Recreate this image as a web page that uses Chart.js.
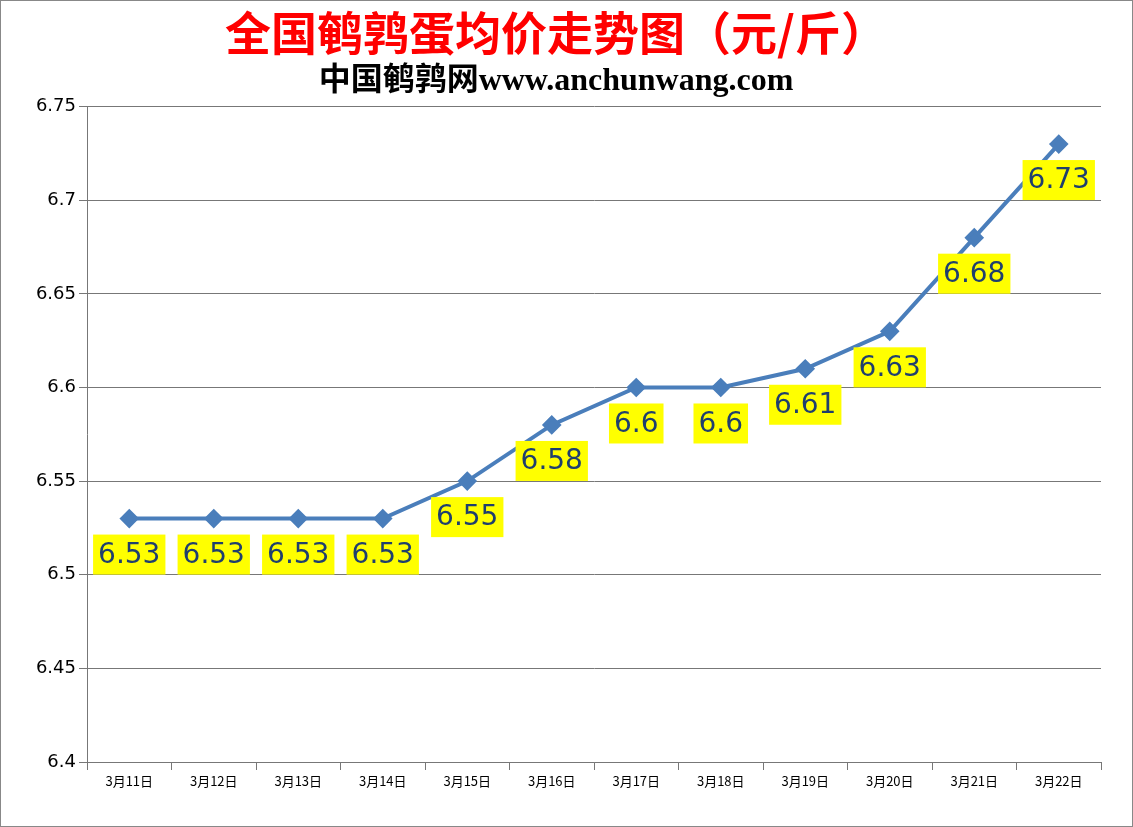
<!DOCTYPE html>
<html><head><meta charset="utf-8">
<script src="https://cdn.jsdelivr.net/npm/chart.js@4"></script>
<style>body{margin:0;background:#fff}#wrap{width:1133px;height:827px;box-sizing:border-box;border:1px solid #888}</style>
</head><body><div id="wrap"><canvas id="c" width="1131" height="825"></canvas></div>
<script>
const days = ['3月11日','3月12日','3月13日','3月14日','3月15日','3月16日','3月17日','3月18日','3月19日','3月20日','3月21日','3月22日'];
const prices = [6.53, 6.53, 6.53, 6.53, 6.55, 6.58, 6.6, 6.6, 6.61, 6.63, 6.68, 6.73];
const yTicks = [6.4, 6.45, 6.5, 6.55, 6.6, 6.65, 6.7, 6.75];

const labelPlugin = {
  id: 'valueLabels',
  afterDatasetsDraw(chart) {
    const ctx = chart.ctx;
    const meta = chart.getDatasetMeta(0);
    ctx.save();
    ctx.font = '28px "DejaVu Sans"';
    ctx.textAlign = 'center';
    ctx.textBaseline = 'middle';
    meta.data.forEach((pt, i) => {
      const txt = String(prices[i]);
      const w = ctx.measureText(txt).width + 10;
      const cx = pt.x, cy = pt.y + 36;
      ctx.fillStyle = '#FFFF00';
      ctx.fillRect(cx - w / 2, cy - 20, w, 40);
      ctx.fillStyle = '#1F3F6E';
      ctx.fillText(txt, cx, cy + 1);
    });
    ctx.restore();
  }
};

new Chart(document.getElementById('c'), {
  type: 'line',
  data: { labels: days, datasets: [{ data: prices, borderColor: '#4A7EBB', backgroundColor: '#4A7EBB',
    borderWidth: 4, pointStyle: 'rectRot', pointRadius: 7, pointHoverRadius: 7, tension: 0 }] },
  options: {
    responsive: false, animation: false,
    layout: { padding: { left: 10, right: 31, top: 4, bottom: 28 } },
    plugins: {
      legend: { display: false }, tooltip: { enabled: false },
      title: { display: true, text: '全国鹌鹑蛋均价走势图（元/斤）', color: '#FF0000',
        font: { family: '"Noto Sans CJK SC"', size: 46, weight: 'bold' }, padding: { top: 0, bottom: 2 } },
      subtitle: { display: true, text: '中国鹌鹑网www.anchunwang.com', color: '#000',
        font: { family: '"Liberation Serif", "Noto Sans CJK SC"', size: 32, weight: 'bold' }, padding: { top: 0, bottom: 6 } }
    },
    scales: {
      x: { offset: true,
        grid: { offset: true, drawOnChartArea: false, color: '#777', tickLength: 8 },
        border: { color: '#777' },
        ticks: { color: '#000', font: { family: '"Noto Sans CJK SC"', size: 13 } },
        afterFit(s) { s.height = 36; } },
      y: { min: 6.4, max: 6.75,
        afterBuildTicks(s) { s.ticks = yTicks.map(v => ({ value: v })); },
        grid: { color: '#777', tickLength: 8 }, border: { color: '#777' },
        ticks: { color: '#000', font: { family: '"DejaVu Sans"', size: 18 }, callback: v => String(+v.toFixed(2)) },
        afterFit(s) { s.width = 76; } }
    }
  },
  plugins: [labelPlugin]
});
</script></body></html>
